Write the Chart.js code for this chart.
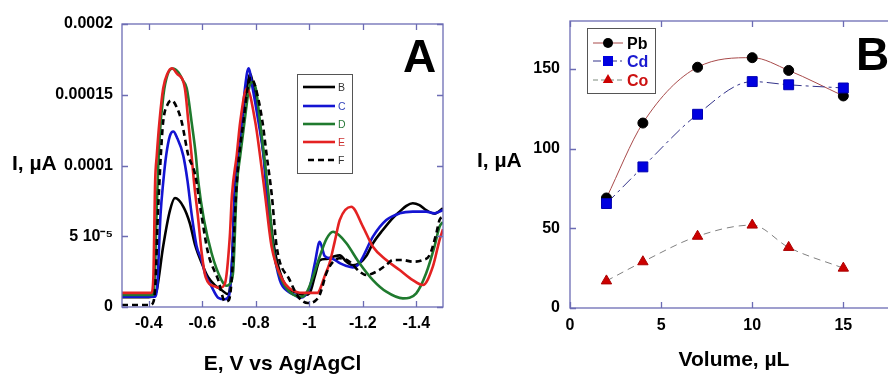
<!DOCTYPE html>
<html>
<head>
<meta charset="utf-8">
<script src="https://cdn.jsdelivr.net/npm/chart.js@4.4.1/dist/chart.umd.min.js"></script>
<style>
  html, body { margin: 0; padding: 0; background: #fff; overflow: hidden; }
  #wrap { position: relative; width: 888px; height: 375px; overflow: hidden; }
  #chartA { position: absolute; left: 0; top: 0; }
  #chartB { position: absolute; left: 450px; top: 0; }
  #over { position: absolute; left: 0; top: 0; font-family: "Liberation Sans", Arial, sans-serif; }
</style>
</head>
<body>
<div id="wrap">
  <canvas id="chartA" width="450" height="375"></canvas>
  <canvas id="chartB" width="460" height="375"></canvas>
  <svg id="over" width="888" height="375">
    <text x="403" y="72" font-size="46" font-weight="bold">A</text>
    <text x="856" y="70" font-size="46" font-weight="bold">B</text>
    <text x="12" y="170" font-size="21" font-weight="bold">I, µA</text>
    <text x="477" y="167" font-size="21" font-weight="bold">I, µA</text>

    <!-- legend panel A -->
    <rect x="297.5" y="74.5" width="55" height="99" fill="#fff" stroke="#555" stroke-width="1"/>
    <line x1="303" y1="87" x2="335" y2="87" stroke="#000" stroke-width="2.6"/>
    <line x1="303" y1="106" x2="335" y2="106" stroke="#1414d2" stroke-width="2.6"/>
    <line x1="303" y1="124" x2="335" y2="124" stroke="#1f7a2e" stroke-width="2.6"/>
    <line x1="303" y1="142" x2="335" y2="142" stroke="#e42222" stroke-width="2.6"/>
    <line x1="308" y1="160" x2="335" y2="160" stroke="#000" stroke-width="2.6" stroke-dasharray="6,4"/>
    <text x="338" y="91" font-size="10.5" fill="#333">B</text>
    <text x="338" y="110" font-size="10.5" fill="#3344bb">C</text>
    <text x="338" y="128" font-size="10.5" fill="#2a7a3a">D</text>
    <text x="338" y="146" font-size="10.5" fill="#cc3333">E</text>
    <text x="338" y="164" font-size="10.5" fill="#333">F</text>

    <!-- legend panel B -->
    <rect x="587.5" y="28.5" width="68" height="65" fill="#fff" stroke="#555" stroke-width="1"/>
    <line x1="593" y1="43" x2="623" y2="43" stroke="#a84a4a" stroke-width="1"/>
    <circle cx="608" cy="43" r="5" fill="#000"/>
    <line x1="593" y1="61" x2="623" y2="61" stroke="#33338a" stroke-width="1" stroke-dasharray="8,3,2,3"/>
    <rect x="603" y="56" width="10" height="10" fill="#0000e0"/>
    <line x1="593" y1="80" x2="623" y2="80" stroke="#7d8a7d" stroke-width="1" stroke-dasharray="5,3"/>
    <polygon points="608,74 613.2,83 602.8,83" fill="#cc0000"/>
    <text x="627" y="49" font-size="16" font-weight="bold" fill="#000">Pb</text>
    <text x="627" y="67" font-size="16" font-weight="bold" fill="#1a1ad0">Cd</text>
    <text x="627" y="86" font-size="16" font-weight="bold" fill="#cc1111">Co</text>
  </svg>
</div>
<script>
// panel A : stripping curves, [E in V, I in units of 1e-6]
var curveB = [[-0.300, 7], [-0.400, 7], [-0.420, 8], [-0.430, 12], [-0.454, 43], [-0.479, 68], [-0.498, 77],
  [-0.529, 71], [-0.554, 59], [-0.573, 44], [-0.598, 31], [-0.622, 21], [-0.647, 15.5], [-0.672, 12],
  [-0.697, 9], [-0.711, 30], [-0.721, 79], [-0.736, 107], [-0.748, 131], [-0.767, 155], [-0.779, 165],
  [-0.792, 155], [-0.813, 131], [-0.830, 107], [-0.845, 79], [-0.868, 43], [-0.901, 19], [-0.930, 12],
  [-0.955, 10], [-0.984, 8.5], [-1.002, 10], [-1.021, 22], [-1.039, 33], [-1.064, 34], [-1.089, 35.5],
  [-1.114, 36.5], [-1.139, 32], [-1.163, 29.5], [-1.188, 31], [-1.213, 36], [-1.238, 45], [-1.275, 54.4],
  [-1.313, 63], [-1.338, 67.4], [-1.363, 71.5], [-1.387, 73.3], [-1.412, 72], [-1.437, 68.5], [-1.468, 66],
  [-1.500, 69.7]];
var curveC = [[-0.300, 7.3], [-0.425, 7.3], [-0.432, 15], [-0.438, 40], [-0.444, 65], [-0.454, 88],
  [-0.465, 107], [-0.479, 121], [-0.492, 124], [-0.505, 120], [-0.529, 107], [-0.545, 89], [-0.560, 66],
  [-0.579, 43], [-0.598, 33], [-0.610, 24], [-0.635, 14.4], [-0.660, 6.5], [-0.685, 5.5], [-0.700, 8],
  [-0.712, 35], [-0.721, 79], [-0.736, 107], [-0.748, 131], [-0.760, 155], [-0.773, 168.7], [-0.788, 155],
  [-0.810, 131], [-0.829, 107], [-0.841, 79], [-0.864, 43], [-0.890, 19], [-0.920, 11], [-0.946, 8.5],
  [-0.965, 6.5], [-0.984, 8], [-1.002, 14], [-1.021, 31], [-1.039, 46], [-1.058, 36], [-1.089, 34],
  [-1.114, 31], [-1.139, 29], [-1.163, 28], [-1.188, 31], [-1.201, 35.5], [-1.238, 49.7], [-1.288, 61.5],
  [-1.338, 66.2], [-1.387, 67.4], [-1.437, 67.4], [-1.468, 66.2], [-1.500, 68.5]];
var curveD = [[-0.300, 8.5], [-0.415, 8.5], [-0.422, 20], [-0.430, 70], [-0.440, 118], [-0.455, 150],
  [-0.470, 164], [-0.490, 168.5], [-0.510, 166], [-0.528, 160], [-0.542, 154.6], [-0.560, 131],
  [-0.576, 107.4], [-0.585, 89], [-0.606, 62], [-0.635, 38], [-0.672, 19], [-0.691, 15], [-0.705, 17],
  [-0.716, 26], [-0.729, 85], [-0.742, 107], [-0.758, 131], [-0.775, 154.6], [-0.785, 159], [-0.800, 154.6],
  [-0.816, 131], [-0.831, 107], [-0.848, 79], [-0.864, 43], [-0.897, 19], [-0.925, 11], [-0.957, 7.5],
  [-0.976, 7.3], [-0.995, 12], [-1.014, 21.4], [-1.039, 35.5], [-1.064, 48], [-1.089, 53.2], [-1.110, 51],
  [-1.139, 45], [-1.188, 30.9], [-1.238, 19], [-1.288, 10.8], [-1.350, 6.1], [-1.400, 9.7], [-1.437, 23.8],
  [-1.468, 42.6], [-1.487, 56.7], [-1.500, 60]];
var curveE = [[-0.300, 10], [-0.410, 10], [-0.417, 20], [-0.424, 89], [-0.430, 107], [-0.440, 131],
  [-0.454, 154.6], [-0.470, 165], [-0.486, 168.7], [-0.505, 165], [-0.535, 154.6], [-0.548, 131],
  [-0.560, 107.4], [-0.569, 88.6], [-0.585, 62], [-0.598, 38], [-0.613, 21], [-0.647, 14.5], [-0.666, 13.5],
  [-0.685, 16.7], [-0.703, 49.7], [-0.711, 79], [-0.729, 107.4], [-0.742, 131], [-0.767, 154.6],
  [-0.798, 131], [-0.816, 107], [-0.835, 79], [-0.859, 43], [-0.901, 19], [-0.927, 13], [-0.955, 10.5],
  [-0.976, 10], [-1.032, 10], [-1.039, 12], [-1.058, 22], [-1.076, 31], [-1.095, 46], [-1.114, 61.5],
  [-1.157, 70.9], [-1.201, 56.7], [-1.238, 42.6], [-1.288, 33.2], [-1.338, 26.1], [-1.387, 19],
  [-1.425, 15.5], [-1.462, 28.5], [-1.487, 47.3], [-1.500, 55]];
var curveF = [[-0.300, 1.4], [-0.405, 1.4], [-0.418, 4], [-0.426, 20], [-0.433, 60], [-0.440, 88.6],
  [-0.445, 107], [-0.454, 131], [-0.470, 143], [-0.486, 146], [-0.505, 141], [-0.523, 131], [-0.548, 107],
  [-0.573, 94], [-0.597, 65], [-0.622, 38], [-0.660, 19], [-0.685, 3.8], [-0.700, 5], [-0.712, 25],
  [-0.726, 79], [-0.738, 107], [-0.754, 131], [-0.770, 155], [-0.782, 162], [-0.800, 154.6], [-0.825, 131],
  [-0.841, 107], [-0.860, 79], [-0.878, 43], [-0.927, 19], [-0.960, 7], [-0.994, 2.8], [-1.020, 4],
  [-1.039, 8.5], [-1.064, 23.8], [-1.089, 32], [-1.114, 34.4], [-1.151, 32], [-1.188, 25], [-1.213, 22.6],
  [-1.251, 25], [-1.288, 29.7], [-1.313, 33.2], [-1.350, 33.2], [-1.387, 32], [-1.425, 33.2], [-1.450, 36.7],
  [-1.475, 52], [-1.487, 61.5], [-1.500, 64]];

var xTicksA = [-0.4, -0.6, -0.8, -1.0, -1.2, -1.4];
var xLabelsA = ['-0.4', '-0.6', '-0.8', '-1', '-1.2', '-1.4'];
var yTicksA = [0, 50, 100, 150, 200];
var yLabelsA = ['0', '5 10\u207B\u2075', '0.0001', '0.00015', '0.0002'];

// panel B : peak current vs volume
var volume = [2, 4, 7, 10, 12, 15];
var pb = [69, 116, 151, 157, 149, 133];
var cd = [65.5, 88.5, 121.5, 142, 140, 138];
var co = [17, 29, 45, 52, 38, 25];
var xTicksB = [0, 5, 10, 15];
var yTicksB = [0, 50, 100, 150];

var font = "'Liberation Sans', Arial, sans-serif";
var frameColor = '#6c6cb4';

function pts(arr) {
    return arr.map(function (p) { return {x: p[0], y: p[1]}; });
}
function pairs(xs, ys) {
    return xs.map(function (v, i) { return {x: v, y: ys[i]}; });
}

// box round the plot + inward ticks on all sides
var boxTicks = {
    id: 'boxTicks',
    afterDatasetsDraw: function (chart) {
        var ctx = chart.ctx, a = chart.chartArea, sx = chart.scales.x, sy = chart.scales.y;
        ctx.save();
        ctx.strokeStyle = frameColor;
        ctx.lineWidth = 1.3;
        ctx.strokeRect(a.left, a.top, a.right - a.left, a.bottom - a.top);
        ctx.beginPath();
        sx.ticks.forEach(function (t) {
            var p = Math.round(sx.getPixelForValue(t.value)) + 0.5;
            ctx.moveTo(p, a.bottom); ctx.lineTo(p, a.bottom - 6);
            ctx.moveTo(p, a.top); ctx.lineTo(p, a.top + 6);
        });
        sy.ticks.forEach(function (t) {
            var p = Math.round(sy.getPixelForValue(t.value)) + 0.5;
            ctx.moveTo(a.left, p); ctx.lineTo(a.left + 6, p);
            ctx.moveTo(a.right, p); ctx.lineTo(a.right - 6, p);
        });
        ctx.stroke();
        ctx.restore();
    }
};

function tickFont() {
    return {family: font, size: 16, weight: 'bold'};
}
function titleFont() {
    return {family: font, size: 21, weight: 'bold', lineHeight: 1};
}
var noGrid = {display: false, drawTicks: false};

new Chart(document.getElementById('chartA'), {
    type: 'line',
    data: {
        datasets: [
            {label: 'B', data: pts(curveB), borderColor: '#000000', order: 5},
            {label: 'C', data: pts(curveC), borderColor: '#1414d2', order: 4},
            {label: 'D', data: pts(curveD), borderColor: '#1f7a2e', order: 3},
            {label: 'E', data: pts(curveE), borderColor: '#e42222', order: 2},
            {label: 'F', data: pts(curveF), borderColor: '#000000', borderDash: [6, 4], order: 1}
        ]
    },
    options: {
        responsive: false,
        animation: false,
        devicePixelRatio: 1,
        layout: {padding: {top: 24, right: 7, left: 0, bottom: 0}},
        elements: {
            point: {radius: 0},
            line: {borderWidth: 2.6, cubicInterpolationMode: 'monotone'}
        },
        plugins: {legend: {display: false}, tooltip: {enabled: false}},
        scales: {
            x: {
                type: 'linear', reverse: true, min: -1.5, max: -0.3,
                grid: noGrid, border: {display: false},
                afterBuildTicks: function (s) { s.ticks = xTicksA.map(function (v) { return {value: v}; }); },
                afterFit: function (s) { s.height = 68; },
                ticks: {autoSkip: false, maxRotation: 0, padding: 7, color: '#000', font: tickFont(),
                    callback: function (v, i) { return xLabelsA[i]; }},
                title: {display: true, text: 'E, V vs Ag/AgCl', color: '#000', font: titleFont(),
                    padding: {top: 0, bottom: 0}}
            },
            y: {
                type: 'linear', min: 0, max: 200,
                grid: noGrid, border: {display: false},
                afterBuildTicks: function (s) { s.ticks = yTicksA.map(function (v) { return {value: v}; }); },
                afterFit: function (s) { s.width = 122; },
                ticks: {autoSkip: false, padding: 9, color: '#000', font: tickFont(),
                    callback: function (v, i) { return yLabelsA[i]; }}
            }
        }
    },
    plugins: [boxTicks]
});

new Chart(document.getElementById('chartB'), {
    type: 'line',
    data: {
        datasets: [
            {label: 'Pb', data: pairs(volume, pb), borderColor: '#a84a4a', borderWidth: 1,
                pointStyle: 'circle', pointRadius: 5, pointBackgroundColor: '#000', pointBorderColor: '#000', order: 1},
            {label: 'Cd', data: pairs(volume, cd), borderColor: '#33338a', borderWidth: 1, borderDash: [12, 4, 3, 4],
                pointStyle: 'rect', pointRadius: 7, pointBackgroundColor: '#0000e0', pointBorderColor: '#0000b0', order: 0},
            {label: 'Co', data: pairs(volume, co), borderColor: '#808080', borderWidth: 1, borderDash: [7, 5],
                pointStyle: 'triangle', pointRadius: 6, pointBackgroundColor: '#cc0000', pointBorderColor: '#aa0000', order: 2}
        ]
    },
    options: {
        responsive: false,
        animation: false,
        devicePixelRatio: 1,
        layout: {padding: {top: 21, right: 12, left: 0, bottom: 0}},
        elements: {line: {cubicInterpolationMode: 'monotone'}},
        plugins: {legend: {display: false}, tooltip: {enabled: false}},
        scales: {
            x: {
                type: 'linear', min: 0, max: 18,
                grid: noGrid, border: {display: false},
                afterBuildTicks: function (s) { s.ticks = xTicksB.map(function (v) { return {value: v}; }); },
                afterFit: function (s) { s.height = 67; },
                ticks: {autoSkip: false, maxRotation: 0, padding: 8, color: '#000', font: tickFont()},
                title: {display: true, text: 'Volume, µL', color: '#000', font: titleFont(),
                    padding: {top: 0, bottom: 4}}
            },
            y: {
                type: 'linear', min: 0, max: 180,
                grid: noGrid, border: {display: false},
                afterBuildTicks: function (s) { s.ticks = yTicksB.map(function (v) { return {value: v}; }); },
                afterFit: function (s) { s.width = 120; },
                ticks: {autoSkip: false, padding: 10, color: '#000', font: tickFont()}
            }
        }
    },
    plugins: [boxTicks]
});
</script>
</body>
</html>
